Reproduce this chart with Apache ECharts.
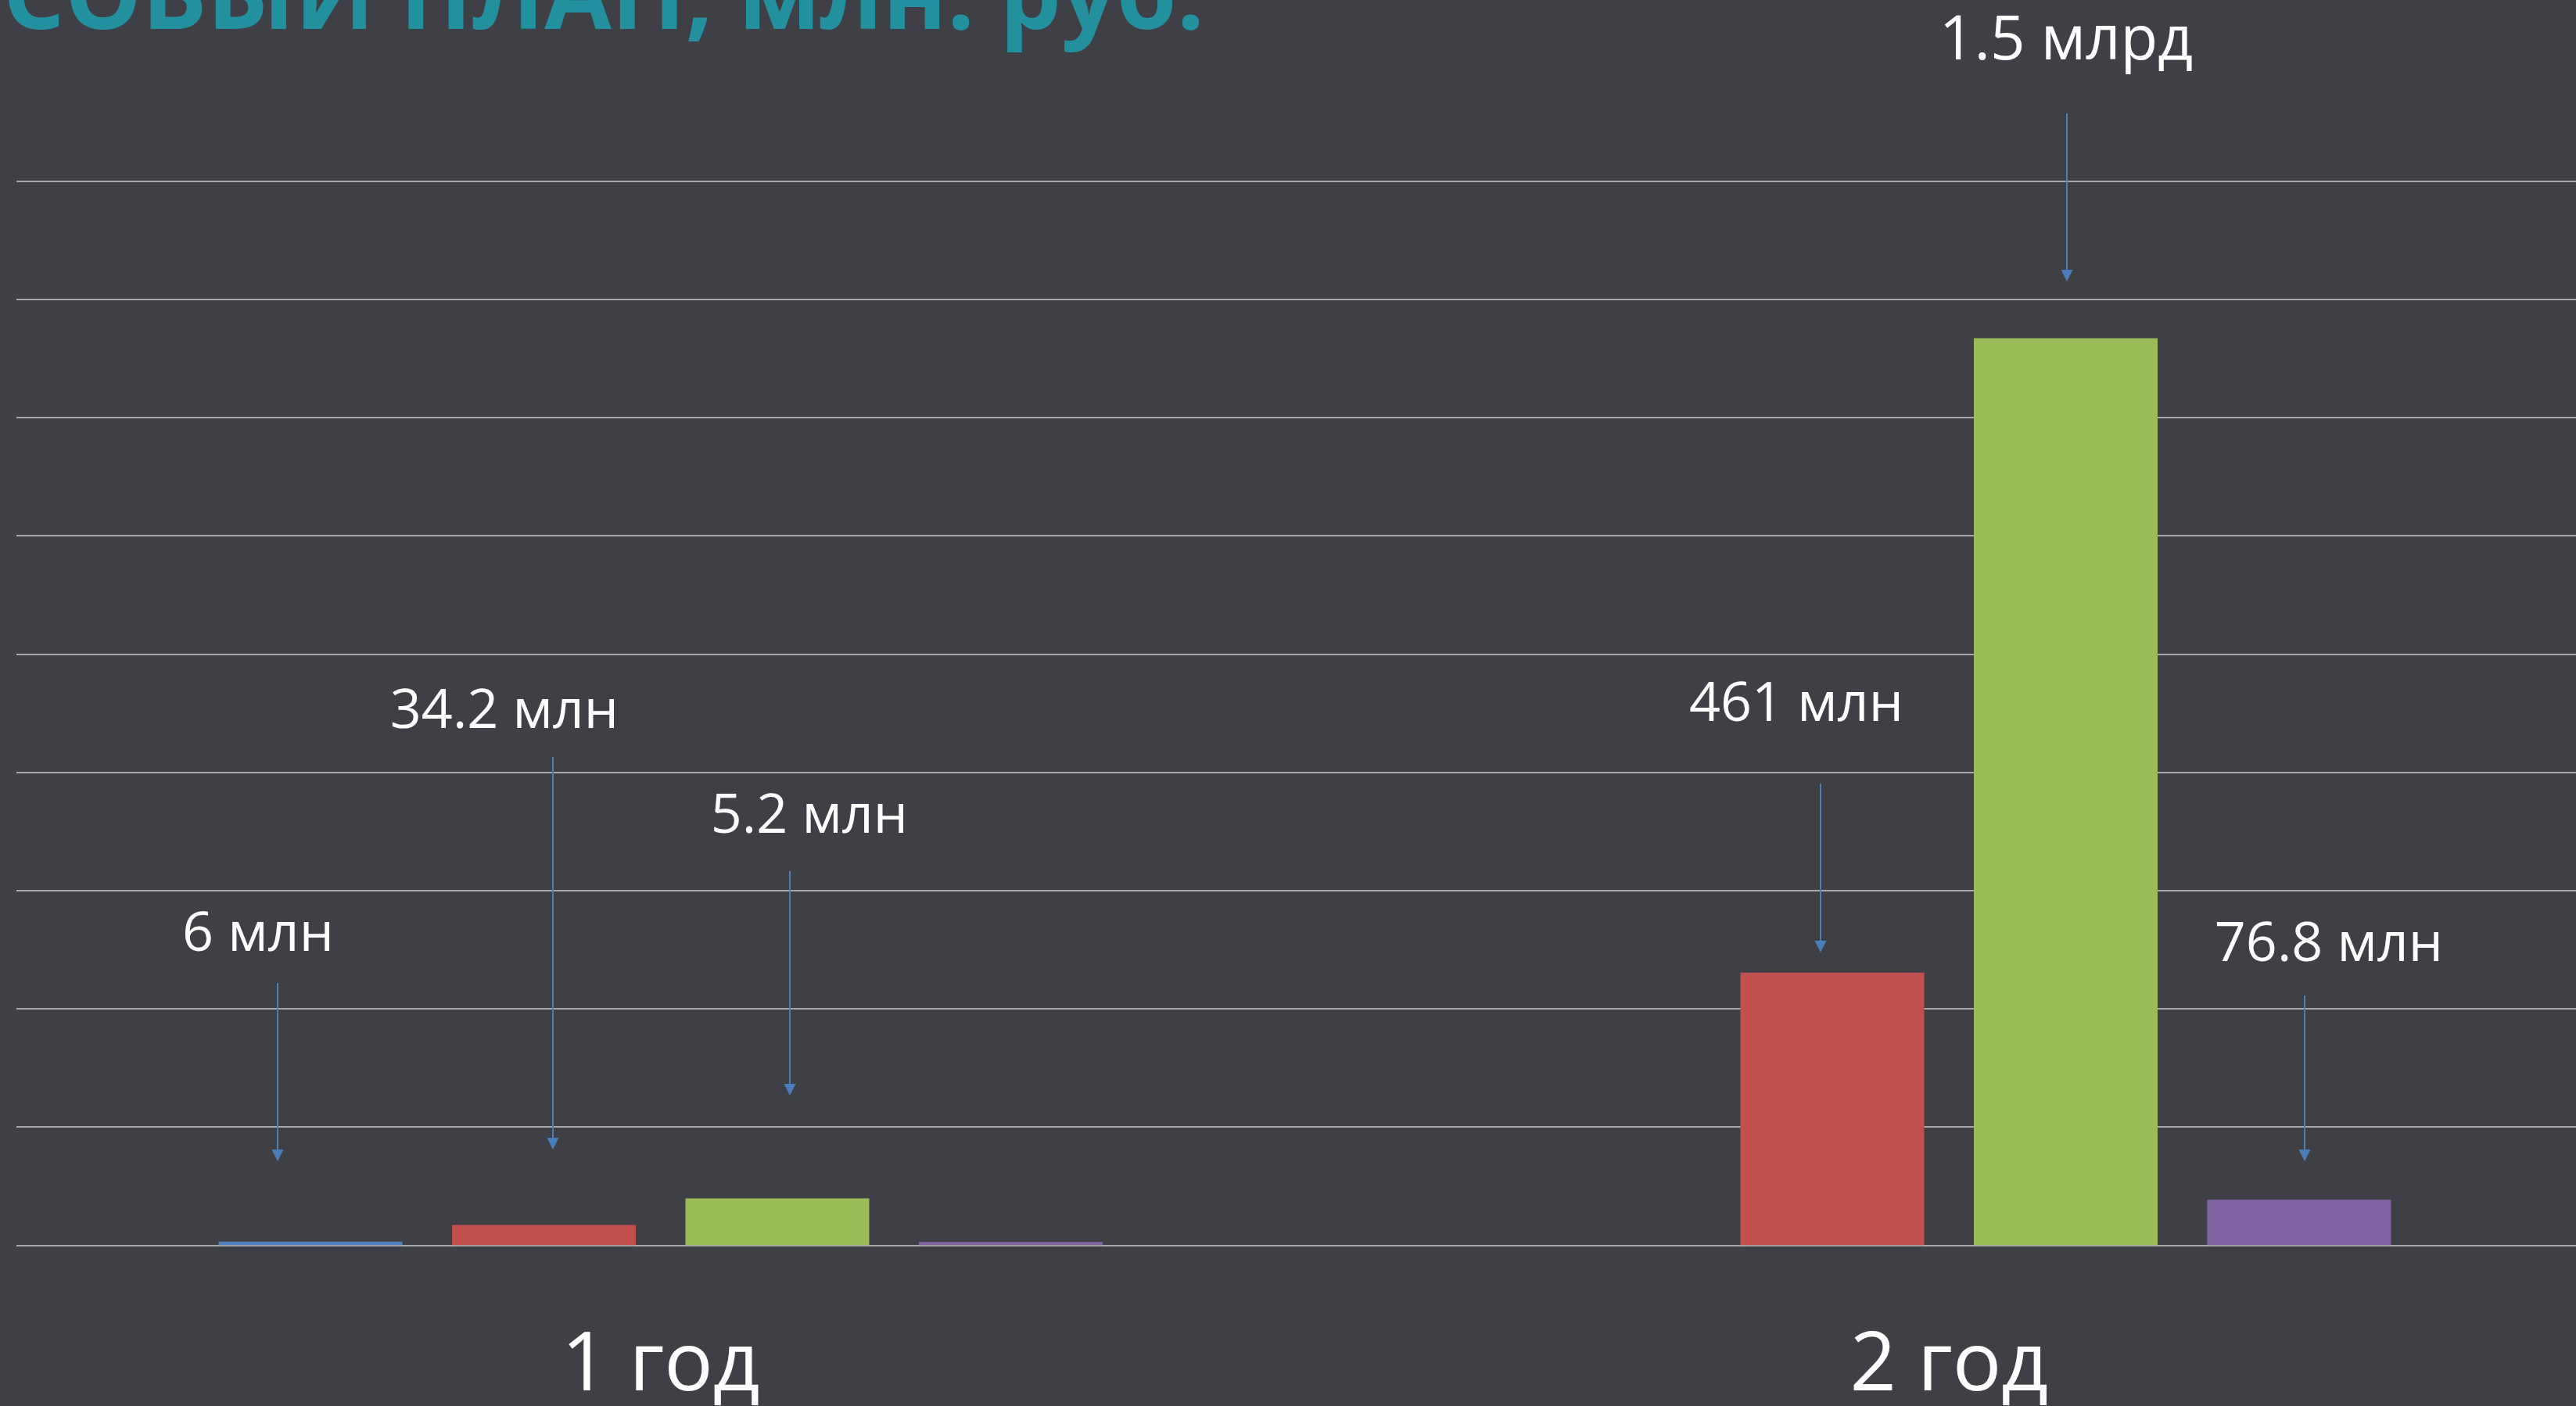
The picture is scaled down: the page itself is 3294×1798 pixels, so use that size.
<!DOCTYPE html>
<html>
<head>
<meta charset="utf-8">
<script src="https://cdn.jsdelivr.net/npm/echarts@6/dist/echarts.min.js"></script>
<style>
  html, body { margin: 0; padding: 0; background: #3F4046; overflow: hidden; }
  /* slide chart runs a bit past the right edge of the window */
  #chart { width: 3316px; height: 1798px; }
</style>
</head>
<body>
<div id="chart"></div>
<script>
// Data
const categories = ['1 год', '2 год'];
const blueValues = [6, null];
const redValues = [34.2, 461];
const greenValues = [79, 1534];
const purpleValues = [5.2, 76.8];
const yMin = 0;
const yMax = 1800;
const yStep = 200;
const titleText = 'ФИНАНСОВЫЙ ПЛАН, млн. руб.';
const noteTexts = ['6 млн', '34.2 млн', '5.2 млн', '461 млн', '1.5 млрд', '76.8 млн'];

// Colors
const bg = '#3F4046';
const gridColor = '#CDCDCD';
const arrowColor = '#4A7EBB';
const barColors = ['#4F81BD', '#C0504D', '#9BBB59', '#8064A2'];

// Annotation layout (pixels) - labels and arrows drawn over the chart like slide callouts
const noteLayout = [
  { x: 330, y: 1196, size: 70 },
  { x: 645, y: 911, size: 70 },
  { x: 1035, y: 1045, size: 70 },
  { x: 2297, y: 902, size: 70 },
  { x: 2642, y: 54, size: 78 },
  { x: 2978, y: 1209, size: 70 }
];
const arrowLayout = [
  { x: 355, from: 1257, to: 1485 },
  { x: 707, from: 968, to: 1470 },
  { x: 1010, from: 1114, to: 1401 },
  { x: 2328, from: 1002, to: 1218 },
  { x: 2643, from: 145, to: 360 },
  { x: 2947, from: 1273, to: 1485 }
];

const graphics = [];

// Title, cut off on the left/top like in the slide
graphics.push({
  type: 'text',
  x: 1540,
  y: 2,
  style: {
    text: titleText,
    fill: '#2390A0',
    font: 'bold 124px "Open Sans"',
    textAlign: 'right',
    textVerticalAlign: 'middle'
  },
  z: 10
});

noteTexts.forEach((t, i) => {
  const p = noteLayout[i];
  graphics.push({
    type: 'text',
    x: p.x,
    y: p.y,
    style: {
      text: t,
      fill: '#FFFFFF',
      font: p.size + 'px "Open Sans"',
      textAlign: 'center',
      textVerticalAlign: 'middle'
    },
    z: 10
  });
});

arrowLayout.forEach(a => {
  const head = 15;
  graphics.push({
    type: 'line',
    shape: { x1: a.x, y1: a.from, x2: a.x, y2: a.to - head },
    style: { stroke: arrowColor, lineWidth: 2 },
    z: 10
  });
  graphics.push({
    type: 'polygon',
    shape: { points: [[a.x - 7.5, a.to - head], [a.x + 7.5, a.to - head], [a.x, a.to]] },
    style: { fill: arrowColor },
    z: 10
  });
});

function makeBar(values, color) {
  return {
    type: 'bar',
    data: values,
    barWidth: 235,
    barGap: '27%',
    itemStyle: { color: color },
    animation: false
  };
}

const option = {
  backgroundColor: bg,
  animation: false,
  grid: {
    left: 21,
    right: 0,
    top: 231.5,
    bottom: 205.7,
    outerBoundsMode: 'none'
  },
  xAxis: {
    type: 'category',
    data: categories,
    axisLine: { show: false },
    axisTick: { show: false },
    axisLabel: {
      color: '#FFFFFF',
      fontSize: 104,
      fontFamily: 'Open Sans',
      margin: 104
    }
  },
  yAxis: {
    type: 'value',
    min: yMin,
    max: yMax,
    interval: yStep,
    axisLabel: { show: false },
    axisLine: { show: false },
    axisTick: { show: false },
    splitLine: { show: true, lineStyle: { color: gridColor, width: 1.5 } }
  },
  series: [
    makeBar(blueValues, barColors[0]),
    makeBar(redValues, barColors[1]),
    makeBar(greenValues, barColors[2]),
    makeBar(purpleValues, barColors[3])
  ],
  graphic: graphics
};

const chart = echarts.init(document.getElementById('chart'));
chart.setOption(option);
</script>
</body>
</html>
